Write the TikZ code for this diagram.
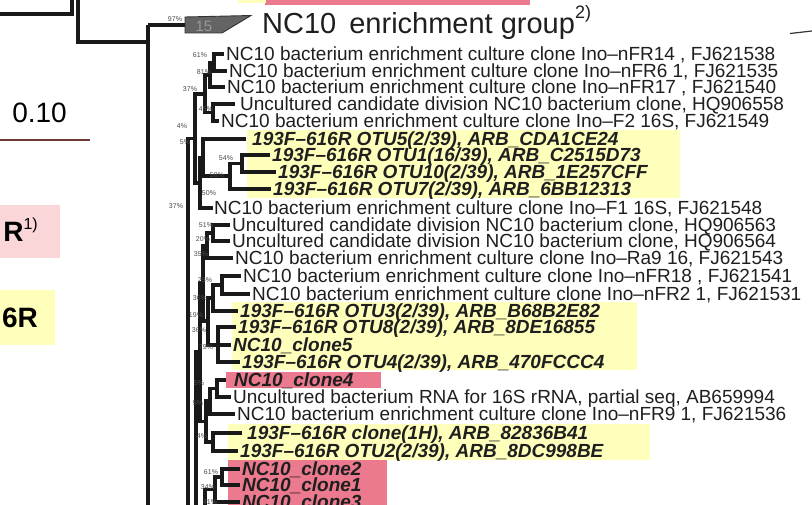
\documentclass[tikz,border=0pt]{standalone}
\usepackage{fontspec}
\setmainfont{Liberation Sans}
\definecolor{hlY}{RGB}{255,255,188}
\definecolor{hlP}{RGB}{236,122,142}
\definecolor{hlPl}{RGB}{250,214,216}
\definecolor{clgray}{RGB}{100,100,100}
\definecolor{scl}{RGB}{110,60,50}
\newcommand\cl[3]{\draw[br] (#2) -| (#1) |- (#3);}
\begin{document}
\begin{tikzpicture}[x=1pt,y=-1pt,
  br/.style={line width=3.2pt, line join=miter, black!90},
  leaf/.style={anchor=west, inner xsep=2.5pt, inner ysep=0pt, text height=13.6pt, text depth=0pt, text=black!88, font=\fontsize{19}{19}\selectfont},
  otu/.style={leaf, font=\fontsize{19}{19}\selectfont\bfseries\itshape},
  bs/.style={inner sep=0pt, font=\fontsize{7}{7}\selectfont, text=black!70},
  ylw/.style={fill=hlY, draw=none},
  pnk/.style={fill=hlP, draw=none}]
\useasboundingbox (0,0) rectangle (812,505);
\clip (0,0) rectangle (812,505);
\fill[white] (0,0) rectangle (812,505);
% highlight boxes
\fill[pnk] (265,0) rectangle (530,5);
\fill[hlY] (238,0) rectangle (266,3);
\fill[hlPl] (0,205) rectangle (60,258);
\fill[hlY] (0,290) rectangle (55,345);
\fill[ylw] (247,130) rectangle (680,198);
\fill[ylw] (232,302) rectangle (637,370);
\fill[pnk] (226,372) rectangle (381,388);
\fill[ylw] (228,424) rectangle (650,460);
\fill[pnk] (228,460) rectangle (387,506);
% left texts
\node[anchor=base, inner sep=0pt, font=\fontsize{28}{28}\selectfont] (scale) at (39.5,123) {0.10};
\coordinate (sb1) at (0,140);
\coordinate (sb2) at (90,140);
\draw[scl, line width=1.3pt] (sb1) -- (sb2);
\node[anchor=base east, inner sep=0pt, font=\fontsize{28}{28}\selectfont\bfseries] (R1) at (38,242) {R\raisebox{0.45em}{\fontsize{16}{16}\selectfont\mdseries 1)}};
\node[anchor=base east, inner sep=0pt, font=\fontsize{28}{28}\selectfont\bfseries] (R6) at (38,328) {6R};
% top-left frame lines
\coordinate (f1) at (0,14);
\coordinate (f2) at (72,0);
\draw[br] (f1) -| (f2);
\coordinate (g1) at (78,0);
\coordinate (g2) at (148,42);
\draw[br] (g1) |- (g2);
\coordinate (rootT) at (148,25);
\coordinate (rootB) at (148,510);
\draw[br] (rootT) -- (rootB);
% collapsed clade
\node[inner sep=0pt] (coll) at (185,25) {};
\draw[draw=black!80, fill=clgray, line width=0.9pt] (185,17) -- (251,15.5) -- (222,33) -- (185,33) -- cycle;
\node[font=\fontsize{15}{15}\selectfont, text=black!40] (c15) at (204,26) {15};
\draw[br] (rootT) -- (coll.center);
\node[bs] at (175,19) {97\%};
\node[anchor=base west, inner sep=0pt, font=\fontsize{29}{29}\selectfont, text=black!88] (title) at (262,33.5) {NC10\hspace{0.45em}enrichment group\raisebox{0.5em}{\fontsize{18}{18}\selectfont 2)}};
\coordinate (rl1) at (790,33.5);
\coordinate (rl2) at (812,31);
\draw[line width=1.2pt, black!80] (rl1) -- (rl2);
% leaves
\node[leaf] (r1) at (223.5,54) {NC10 bacterium enrichment culture clone Ino–nFR14 , FJ621538};
\node[leaf] (r2) at (226.5,71) {NC10 bacterium enrichment culture clone Ino–nFR6 1, FJ621535};
\node[leaf] (r3) at (224.5,87) {NC10 bacterium enrichment culture clone Ino–nFR17 , FJ621540};
\node[leaf, inner xsep=5pt] (r4) at (235,104) {Uncultured candidate division NC10 bacterium clone, HQ906558};
\node[leaf] (r5) at (218.5,121) {NC10 bacterium enrichment culture clone Ino–F2 16S, FJ621549};
\node[otu, inner xsep=6pt] (r6) at (246,139) {193F–616R OTU5(2/39), ARB\_CDA1CE24};
\node[otu] (r7) at (269.5,155) {193F–616R OTU1(16/39), ARB\_C2515D73};
\node[otu] (r8) at (275.5,172) {193F–616R OTU10(2/39), ARB\_1E257CFF};
\node[otu] (r9) at (270.5,189) {193F–616R OTU7(2/39), ARB\_6BB12313};
\node[leaf, inner xsep=1pt] (r10) at (213,208) {NC10 bacterium enrichment culture clone Ino–F1 16S, FJ621548};
\node[leaf] (r11) at (229.5,225) {Uncultured candidate division NC10 bacterium clone, HQ906563};
\node[leaf] (r12) at (229.5,241) {Uncultured candidate division NC10 bacterium clone, HQ906564};
\node[leaf] (r13) at (232.5,258) {NC10 bacterium enrichment culture clone Ino–Ra9 16, FJ621543};
\node[leaf] (r14) at (240.5,276) {NC10 bacterium enrichment culture clone Ino–nFR18 , FJ621541};
\node[leaf] (r15) at (249.5,294) {NC10 bacterium enrichment culture clone Ino–nFR2 1, FJ621531};
\node[otu] (r16) at (237.5,311) {193F–616R OTU3(2/39), ARB\_B68B2E82};
\node[otu] (r17) at (235.5,327) {193F–616R OTU8(2/39), ARB\_8DE16855};
\node[otu] (r18) at (230.5,345) {NC10\_clone5};
\node[otu] (r19) at (239.5,362) {193F–616R OTU4(2/39), ARB\_470FCCC4};
\node[otu, inner xsep=8pt] (r20) at (226,380) {NC10\_clone4};
\node[leaf] (r21) at (230.5,397) {Uncultured bacterium RNA for 16S rRNA, partial seq, AB659994};
\node[leaf] (r22) at (234.5,414) {NC10 bacterium enrichment culture clone Ino–nFR9 1, FJ621536};
\node[otu, inner xsep=5pt] (r23) at (242,433) {193F–616R clone(1H), ARB\_82836B41};
\node[otu] (r24) at (237.5,451) {193F–616R OTU2(2/39), ARB\_8DC998BE};
\node[otu] (r25) at (239.5,469) {NC10\_clone2};
\node[otu] (r26) at (239.5,485) {NC10\_clone1};
\node[otu] (r27) at (239.5,502) {NC10\_clone3};
% internal nodes
\coordinate (A1) at (214,62.5);
\coordinate (A2) at (210,75);
\coordinate (A3) at (213,112.5);
\coordinate (A4) at (205,94);
\coordinate (B1) at (242,163.5);
\coordinate (B2) at (230,176);
\coordinate (B3) at (203,157.5);
\coordinate (B4) at (200,183);
\coordinate (V1) at (195,138.5);
\coordinate (V0) at (188,512);
\coordinate (C1) at (213,233);
\coordinate (C2) at (207,245.5);
\coordinate (C3) at (222,285);
\coordinate (C4) at (213,298);
\coordinate (C5) at (218,345);
\coordinate (C6) at (208,321);
\coordinate (C7) at (203,283);
\coordinate (C8) at (217,388.5);
\coordinate (C9) at (210,401);
\coordinate (C10) at (213,442);
\coordinate (C11) at (206,421.5);
\coordinate (C12) at (200,352);
\coordinate (V2) at (196,512);
\coordinate (C13) at (222,477);
\coordinate (C14) at (215,489.5);
\coordinate (V3) at (205,512);
\cl{A1}{r1.west}{r2.west}
\cl{A2}{A1}{r3.west}
\cl{A3}{r4.west}{r5.west}
\cl{A4}{A2}{A3}
\cl{B1}{r7.west}{r8.west}
\cl{B2}{B1}{r9.west}
\cl{B3}{r6.west}{B2}
\cl{B4}{B3}{r10.west}
\cl{V1}{A4}{B4}
\draw[br] (V1) -| (V0);
\cl{C1}{r11.west}{r12.west}
\cl{C2}{C1}{r13.west}
\cl{C3}{r14.west}{r15.west}
\cl{C4}{C3}{r16.west}
\cl{C5}{r17.west}{r19.west}
\draw[br] (C5) -- (r18.west);
\cl{C6}{C4}{C5}
\cl{C7}{C2}{C6}
\cl{C8}{r20.west}{r21.west}
\cl{C9}{C8}{r22.west}
\cl{C10}{r23.west}{r24.west}
\cl{C11}{C9}{C10}
\cl{C12}{C7}{C11}
\draw[br] (C12) -| (V2);
\cl{C13}{r25.west}{r26.west}
\cl{C14}{C13}{r27.west}
\draw[br] (C14) -| (V3);
% bootstrap values
\node[bs] at (200,55) {61\%};
\node[bs] at (204,72) {81\%};
\node[bs] at (190,89) {37\%};
\node[bs] at (206,109) {45\%};
\node[bs] at (182,126) {4\%};
\node[bs] at (185,142) {5\%};
\node[bs] at (226,158) {54\%};
\node[bs] at (217,175) {58\%};
\node[bs] at (209,193) {50\%};
\node[bs] at (176,206) {37\%};
\node[bs] at (206,225) {51\%};
\node[bs] at (203,239) {20\%};
\node[bs] at (201,254) {35\%};
\node[bs] at (205,280) {25\%};
\node[bs] at (200,298) {36\%};
\node[bs] at (196,315) {19\%};
\node[bs] at (199,330) {36\%};
\node[bs] at (206,347) {79\%};
\node[bs] at (199,383) {5\%};
\node[bs] at (198,403) {5\%};
\node[bs] at (202,436) {4\%};
\node[bs] at (211,472) {61\%};
\node[bs] at (208,487) {34\%};
\node[bs] at (210,502) {41\%};
\end{tikzpicture}
\end{document}
